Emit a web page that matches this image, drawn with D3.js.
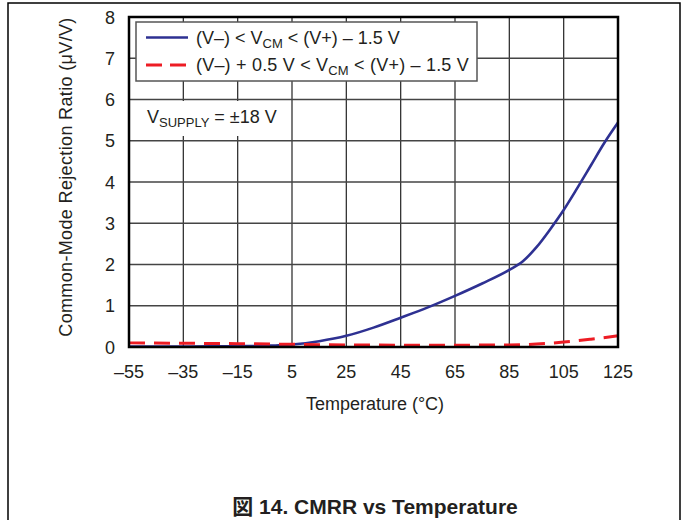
<!DOCTYPE html>
<html>
<head>
<meta charset="utf-8">
<script src="https://cdn.jsdelivr.net/npm/d3@7"></script>
<style>
  html, body { margin: 0; padding: 0; background: #fff; }
  svg text { font-family: "Liberation Sans", Arial, sans-serif; fill: #231f20; }
</style>
</head>
<body>
<script>
'use strict';

// temperature axis (°C)
const xTicks = [-55, -35, -15, 5, 25, 45, 65, 85, 105, 125];
const yTicks = [0, 1, 2, 3, 4, 5, 6, 7, 8];

// (V-) < VCM < (V+) - 1.5 V
const fullTemps = [-55, -45, -35, -25, -15, -5, 5, 15, 25, 35, 45, 55, 65, 75, 85, 90, 95, 100, 105, 110, 115, 120, 125];
const fullCmrr = [0.01, 0.01, 0.01, 0.015, 0.02, 0.03, 0.06, 0.14, 0.27, 0.47, 0.71, 0.96, 1.24, 1.54, 1.87, 2.08, 2.42, 2.85, 3.32, 3.85, 4.4, 4.95, 5.44];

// (V-) + 0.5 V < VCM < (V+) - 1.5 V
const partTemps = [-55, -35, -15, 5, 25, 45, 65, 85, 95, 105, 115, 125];
const partCmrr = [0.1, 0.09, 0.08, 0.065, 0.05, 0.045, 0.045, 0.05, 0.07, 0.12, 0.19, 0.27];

const blue = "#2e3192";
const red = "#ed1c24";
const fs = "18px";   // main text size
const sub = "13px";  // subscript size

let svg = d3.select("body").append("svg")
  .attr("width", 683)
  .attr("height", 520);

// outer frame
svg.append("path")
  .attr("d", "M8,520 V3 H680 V520")
  .attr("fill", "none")
  .attr("stroke", "#000")
  .attr("stroke-width", 1.5);

let xScale = d3.scaleLinear().domain([-55, 125]).range([129, 618]);
let yScale = d3.scaleLinear().domain([0, 8]).range([347, 17]);

// grid
svg.append("g").selectAll("line").data(xTicks.slice(1, -1)).enter().append("line")
  .attr("x1", d => xScale(d)).attr("x2", d => xScale(d))
  .attr("y1", yScale(8)).attr("y2", yScale(0))
  .attr("stroke", "#333").attr("stroke-width", 1.3);

svg.append("g").selectAll("line").data(yTicks.slice(1, -1)).enter().append("line")
  .attr("x1", xScale(-55)).attr("x2", xScale(125))
  .attr("y1", d => yScale(d)).attr("y2", d => yScale(d))
  .attr("stroke", "#444").attr("stroke-width", 1.4);

// white box behind supply note
svg.append("rect")
  .attr("x", 131).attr("y", 101)
  .attr("width", 158).attr("height", 35)
  .attr("fill", "#fff");

svg.append("text")
  .attr("x", 147).attr("y", 123)
  .style("font-size", fs)
  .html('V<tspan dy="4" font-size="' + sub + '">SUPPLY</tspan><tspan dy="-4"> = ±18 V</tspan>');

// curves
let line = d3.line()
  .x(d => xScale(d[0]))
  .y(d => yScale(d[1]))
  .curve(d3.curveMonotoneX);

svg.append("path")
  .datum(fullTemps.map((t, i) => [t, fullCmrr[i]]))
  .attr("d", line)
  .attr("fill", "none")
  .attr("stroke", blue)
  .attr("stroke-width", 2.6);

svg.append("path")
  .datum(partTemps.map((t, i) => [t, partCmrr[i]]))
  .attr("d", line)
  .attr("fill", "none")
  .attr("stroke", red)
  .attr("stroke-width", 3)
  .attr("stroke-dasharray", "16,9");

// plot border
svg.append("rect")
  .attr("x", xScale(-55)).attr("y", yScale(8))
  .attr("width", xScale(125) - xScale(-55))
  .attr("height", yScale(0) - yScale(8))
  .attr("fill", "none")
  .attr("stroke", "#000")
  .attr("stroke-width", 2.5);

// axes labels
svg.append("g").selectAll("text").data(xTicks).enter().append("text")
  .attr("x", d => xScale(d))
  .attr("y", 378)
  .attr("text-anchor", "middle")
  .style("font-size", fs)
  .text(d => d < 0 ? "–" + Math.abs(d) : d);

svg.append("g").selectAll("text").data(yTicks).enter().append("text")
  .attr("x", 115)
  .attr("y", d => yScale(d) + 6.5)
  .attr("text-anchor", "end")
  .style("font-size", fs)
  .text(d => d);

svg.append("text")
  .attr("x", 375).attr("y", 410)
  .attr("text-anchor", "middle")
  .style("font-size", fs)
  .text("Temperature (°C)");

svg.append("text")
  .attr("transform", "translate(72, 177)rotate(-90)")
  .attr("text-anchor", "middle")
  .style("font-size", fs)
  .style("letter-spacing", "0.35px")
  .text("Common-Mode Rejection Ratio (μV/V)");

// legend
let legend = svg.append("g").attr("class", "legend");

legend.append("rect")
  .attr("x", 136).attr("y", 22)
  .attr("width", 341).attr("height", 59)
  .attr("fill", "#fff")
  .attr("stroke", "#555")
  .attr("stroke-width", 1.5);

legend.append("line")
  .attr("x1", 146).attr("x2", 188)
  .attr("y1", 37.5).attr("y2", 37.5)
  .attr("stroke", blue).attr("stroke-width", 2.6);

legend.append("line")
  .attr("x1", 146).attr("x2", 188)
  .attr("y1", 65).attr("y2", 65)
  .attr("stroke", red).attr("stroke-width", 3)
  .attr("stroke-dasharray", "16,8");

legend.append("text")
  .attr("x", 196).attr("y", 43.5)
  .style("font-size", fs)
  .html('(V–) &lt; V<tspan dy="4" font-size="' + sub + '">CM</tspan><tspan dy="-4"> &lt; (V+) – 1.5 V</tspan>');

legend.append("text")
  .attr("x", 196).attr("y", 70.5)
  .style("font-size", fs)
  .style("letter-spacing", "0.2px")
  .html('(V–) + 0.5 V &lt; V<tspan dy="4" font-size="' + sub + '">CM</tspan><tspan dy="-4"> &lt; (V+) – 1.5 V</tspan>');

// caption
svg.append("text")
  .attr("x", 375).attr("y", 514)
  .attr("text-anchor", "middle")
  .style("font-size", "21px")
  .style("font-weight", "bold")
  .html('<tspan style="font-family:\'Noto Sans CJK JP\'">図</tspan> 14. CMRR vs Temperature');
</script>
</body>
</html>
